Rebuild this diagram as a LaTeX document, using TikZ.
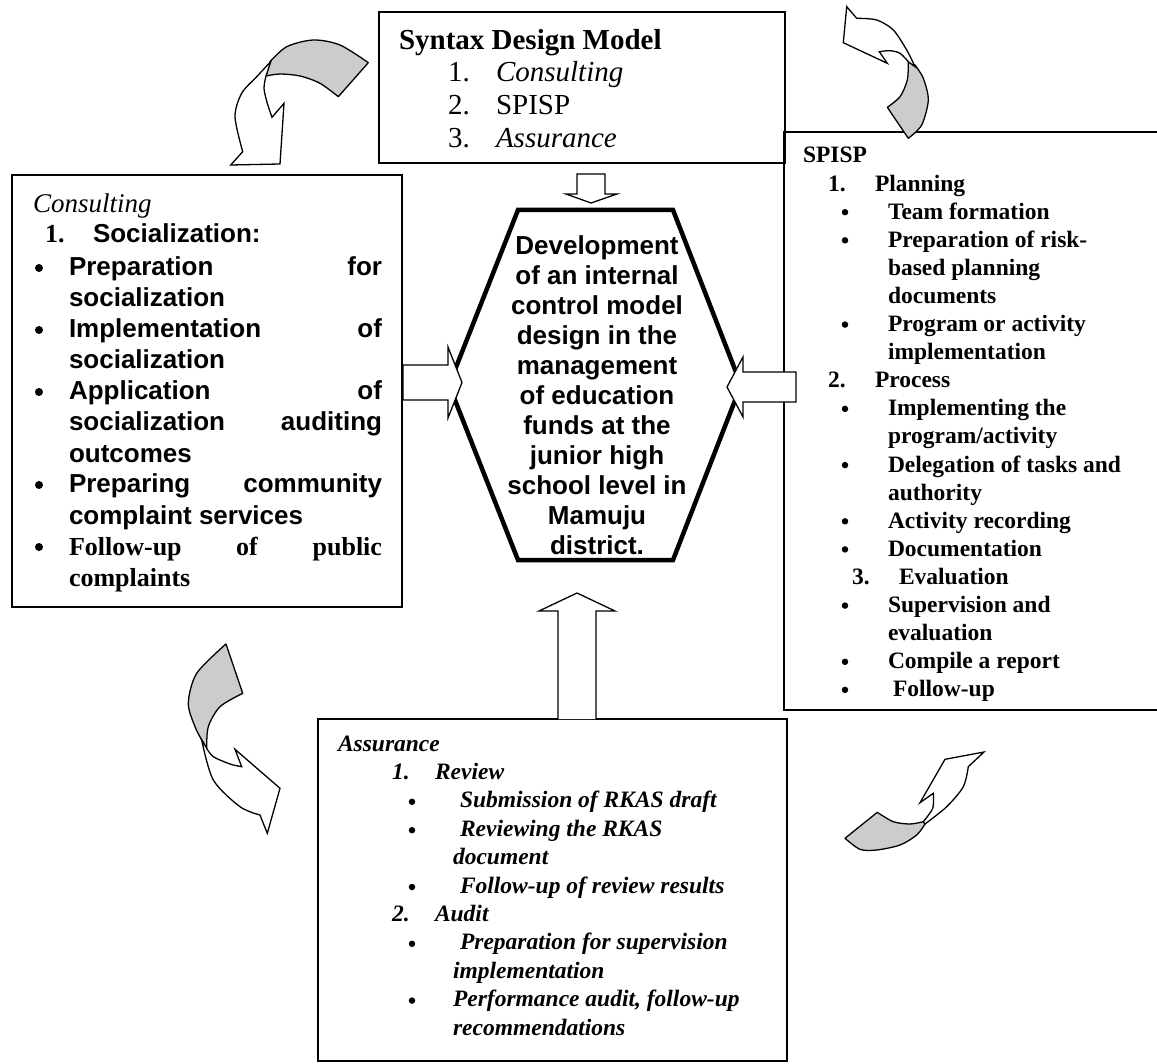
\documentclass[tikz,border=0pt]{standalone}
\usepackage{fontspec}
\setmainfont{Liberation Serif}
\newfontfamily\arialf{Liberation Sans}
\begin{document}
\begin{tikzpicture}[x=1pt,y=-1pt,
  frame/.style={draw=black,line width=1.6pt},
  t/.style={anchor=base west,inner sep=0pt,outer sep=0pt},
  tre/.style={anchor=base east,inner sep=0pt,outer sep=0pt},
  topf/.style={font=\fontsize{29}{33}\selectfont},
  topfb/.style={font=\fontsize{29}{33}\selectfont\bfseries},
  topfi/.style={font=\fontsize{29}{33}\selectfont\itshape},
  conI/.style={font=\fontsize{27}{31}\selectfont\itshape},
  conA/.style={font=\arialf\fontsize{26}{31}\selectfont\bfseries},
  conT/.style={font=\fontsize{26}{31}\selectfont\bfseries},
  rb/.style={font=\fontsize{23.5}{28}\selectfont\bfseries},
  bb/.style={font=\fontsize{23.5}{28}\selectfont\bfseries\itshape},
  hx/.style={font=\arialf\fontsize{26}{30}\selectfont\bfseries,anchor=base,inner sep=0pt},
  bul/.style={circle,fill=black,draw=none,inner sep=0pt,minimum size=#1},
  blockarrow/.style={draw=black,fill=white,line width=1.3pt,line join=miter},
  band/.style={draw=black,fill=gray!40,line width=1.3pt,line join=round},
  wband/.style={draw=black,fill=white,line width=1.3pt,line join=miter},
  hexline/.style={draw=black,line width=4.5pt,line join=miter},
]
\fill[white] (0,0) rectangle (1157,1064);
\useasboundingbox (0,0) rectangle (1157,1064);

% ---------- boxes ----------
\draw[frame] (379,12) rectangle (785,163);
\draw[frame] (12,175) rectangle (402,607);
\draw[frame] (1157,132) -- (784,132) -- (784,710) -- (1157,710);
\draw[frame] (318,719) rectangle (787,1061);

% ---------- hexagon ----------
\draw[hexline] (518,210) -- (673,210) -- (741,385) -- (673,560) -- (518,560) -- (449,385) -- cycle;
\foreach \txt [count=\i from 0] in {Development,of an internal,control model,design in the,management,of education,funds at the,junior high,school level in,Mamuju,district.}{
  \node[hx] (h\i) at (597,{255+29.9*\i}) {\txt};
}

% ---------- block arrows ----------
\draw[blockarrow] (577,174) -- (605,174) -- (605,194) -- (617,194) -- (591,203) -- (566,194) -- (577,194) -- cycle;
\draw[blockarrow] (403,365) -- (448,365) -- (448,347) -- (462,382.5) -- (448,418) -- (448,400) -- (403,400) -- cycle;
\draw[blockarrow] (796,372) -- (743,372) -- (743,357) -- (727,387) -- (743,417) -- (743,402) -- (796,402) -- cycle;
\draw[blockarrow] (558,719) -- (558,611) -- (539,611) -- (577,593) -- (615,611) -- (596,611) -- (596,719);

% ---------- curved arrows ----------
% top left
\draw[band] plot[smooth] coordinates {(270,61.7) (286.7,46.7) (313.3,40) (340,45) (368.3,62.7)}
  -- plot[smooth] coordinates {(338.3,96.7) (320,83.3) (300,76) (280,74) (266,76)} -- cycle;
\draw[wband] plot[smooth] coordinates {(270.7,61.7) (256.7,76.7) (241.7,93.3) (235,116.7) (242.7,151.7)}
  -- (230.7,165) -- (280,164) -- (284,103.3) -- (272,117.3)
  -- plot[smooth] coordinates {(272,117.3) (267.3,103.3) (264,88.3) (266,76)} -- cycle;
% top right
\draw[band] plot[smooth] coordinates {(915,65) (923.3,78.3) (928.3,100) (921.7,125) (908.3,138.3)}
  -- plot[smooth] coordinates {(887.3,107.3) (900,96.7) (907.3,80) (908.3,61.7)} -- cycle;
\draw[wband] (846.7,6.7) -- plot[smooth] coordinates {(856.7,18.3) (876.7,20) (893.3,30) (906.7,50) (915,66.7)}
  -- plot[smooth] coordinates {(908.3,61.7) (900,53.3) (890,50.7) (879.3,51.7)}
  -- (887.3,63.3) -- (843.3,42.7) -- cycle;
% bottom left
\draw[band] plot[smooth] coordinates {(226,644) (196.7,673.3) (188.3,703.3) (195,726.7) (201.7,740)}
  -- plot[smooth] coordinates {(206.7,748.3) (208.3,726.7) (220,706.7) (242.7,693.3)} -- cycle;
\draw[wband] plot[smooth] coordinates {(201.7,740) (213.3,780) (240,806.7) (260,815)}
  -- (267.3,833.3) -- (280,788.3) -- (235,749.3) -- (241.7,766.7)
  -- plot[smooth] coordinates {(241.7,766.7) (230,764) (213.3,756.7) (206.7,748.3)} -- cycle;
% bottom right
\draw[band] plot[smooth] coordinates {(845,838.3) (860,849.3) (876.7,850) (900,845) (916.7,835) (925,824)}
  -- plot[smooth] coordinates {(923.3,821.7) (910,824) (893.3,821.7) (877.3,812.3)} -- cycle;
\draw[wband] plot[smooth] coordinates {(925,824) (946.7,806.7) (963.3,786.7) (968.3,766.7)}
  -- (984,752) -- (945,759.3) -- (920,802.7) -- (933.3,793.3)
  -- plot[smooth] coordinates {(933.3,793.3) (932.7,808.3) (923.3,821.7)} -- cycle;

% ---------- top box text ----------
\node[t,topfb] (sdm) at (399,50) {Syntax Design Model};
\node[t,topf] (tn1) at (448,82) {1.};
\node[t,topfi] (tc1) at (496,82) {Consulting};
\node[t,topf] (tn2) at (448,115) {2.};
\node[t,topf] (tc2) at (496,115) {SPISP};
\node[t,topf] (tn3) at (448,148) {3.};
\node[t,topfi] (tc3) at (496,148) {Assurance};

% ---------- consulting box text ----------
\node[t,conI] (ch) at (33,213) {Consulting};
\node[t,conT] (cn1) at (45,243) {1.};
\node[t,conA] (cs) at (93,243) {Socialization:};
\node[t,conA] (l1a) at (69,276) {Preparation};
\node[tre,conA] (l1b) at (382,276) {for};
\node[t,conA] (l2) at (69,307) {socialization};
\node[t,conA] (l3a) at (69,338) {Implementation};
\node[tre,conA] (l3b) at (382,338) {of};
\node[t,conA] (l4) at (69,369) {socialization};
\node[t,conA] (l5a) at (69,400) {Application};
\node[tre,conA] (l5b) at (382,400) {of};
\node[t,conA] (l6a) at (69,431) {socialization};
\node[tre,conA] (l6b) at (382,431) {auditing};
\node[t,conA] (l7) at (69,462) {outcomes};
\node[t,conA] (l8a) at (69,493) {Preparing};
\node[tre,conA] (l8b) at (382,493) {community};
\node[t,conA] (l9) at (69,524) {complaint services};
\node[t,conT] (l10a) at (69,555) {Follow-up};
\node[t,conT] (l10b) at (236,555) {of};
\node[tre,conT] (l10c) at (382,555) {public};
\node[t,conT] (l11) at (69,586) {complaints};
\foreach \yy [count=\k] in {276,338,400,493,555}{
  \node[bul=8pt] (cb\k) at (39,\yy-8) {};
}

% ---------- SPISP box text ----------
\def\rs{28.1}
\node[t,rb] (r0) at (803,163) {SPISP};
\node[t,rb] (r1n) at (828,{163+1*\rs}) {1.};
\node[t,rb] (r1) at (875,{163+1*\rs}) {Planning};
\node[t,rb] (r2) at (888,{163+2*\rs}) {Team formation};
\node[t,rb] (r3) at (888,{163+3*\rs}) {Preparation of risk-};
\node[t,rb] (r4) at (888,{163+4*\rs}) {based planning};
\node[t,rb] (r5) at (888,{163+5*\rs}) {documents};
\node[t,rb] (r6) at (888,{163+6*\rs}) {Program or activity};
\node[t,rb] (r7) at (888,{163+7*\rs}) {implementation};
\node[t,rb] (r8n) at (828,{163+8*\rs}) {2.};
\node[t,rb] (r8) at (875,{163+8*\rs}) {Process};
\node[t,rb] (r9) at (888,{163+9*\rs}) {Implementing the};
\node[t,rb] (r10) at (888,{163+10*\rs}) {program/activity};
\node[t,rb] (r11) at (888,{163+11*\rs}) {Delegation of tasks and};
\node[t,rb] (r12) at (888,{163+12*\rs}) {authority};
\node[t,rb] (r13) at (888,{163+13*\rs}) {Activity recording};
\node[t,rb] (r14) at (888,{163+14*\rs}) {Documentation};
\node[t,rb] (r15n) at (852,{163+15*\rs}) {3.};
\node[t,rb] (r15) at (899,{163+15*\rs}) {Evaluation};
\node[t,rb] (r16) at (888,{163+16*\rs}) {Supervision and};
\node[t,rb] (r17) at (888,{163+17*\rs}) {evaluation};
\node[t,rb] (r18) at (888,{163+18*\rs}) {Compile a report};
\node[t,rb] (r19) at (893,{163+19*\rs}) {Follow-up};
\foreach \n [count=\k] in {2,3,6,9,11,13,14,16,18,19}{
  \node[bul=6.5pt] (rbul\k) at (845,{163+\n*\rs-7}) {};
}

% ---------- assurance box text ----------
\def\bs{28.4}
\node[t,bb] (a0) at (338,751) {Assurance};
\node[t,bb] (a1n) at (392,{751+1*\bs}) {1.};
\node[t,bb] (a1) at (435,{751+1*\bs}) {Review};
\node[t,bb] (a2) at (460,{751+2*\bs}) {Submission of RKAS draft};
\node[t,bb] (a3) at (460,{751+3*\bs}) {Reviewing the RKAS};
\node[t,bb] (a4) at (453,{751+4*\bs}) {document};
\node[t,bb] (a5) at (460,{751+5*\bs}) {Follow-up of review results};
\node[t,bb] (a6n) at (392,{751+6*\bs}) {2.};
\node[t,bb] (a6) at (435,{751+6*\bs}) {Audit};
\node[t,bb] (a7) at (460,{751+7*\bs}) {Preparation for supervision};
\node[t,bb] (a8) at (453,{751+8*\bs}) {implementation};
\node[t,bb] (a9) at (453,{751+9*\bs}) {Performance audit, follow-up};
\node[t,bb] (a10) at (453,{751+10*\bs}) {recommendations};
\foreach \n [count=\k] in {2,3,5,7,9}{
  \node[bul=6.5pt] (abul\k) at (412,{751+\n*\bs-6}) {};
}
\end{tikzpicture}
\end{document}
